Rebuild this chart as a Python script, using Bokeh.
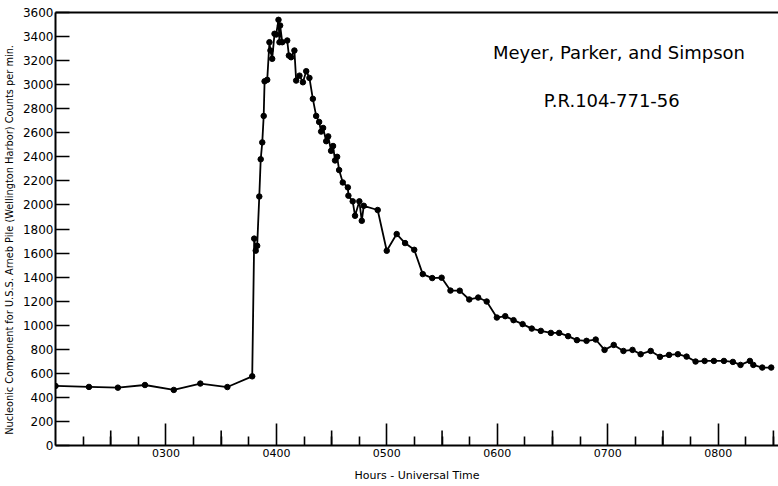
from bokeh.plotting import figure
from bokeh.models import Range1d, FixedTicker, LinearAxis, Label, ColumnDataSource
from bokeh.embed import file_html
from bokeh.resources import INLINE

# Time in hours UT (decimal), counts per minute
hours = [
    2.000, 2.303, 2.565, 2.810, 3.071, 3.311, 3.556, 3.781,
    3.799, 3.813, 3.826, 3.845, 3.858, 3.872, 3.885, 3.893, 3.917,
    3.937, 3.946, 3.962, 3.983, 3.998, 4.019, 4.028, 4.034, 4.053,
    4.098, 4.113, 4.133, 4.163, 4.179, 4.209, 4.240, 4.270, 4.299, 4.330,
    4.360, 4.387, 4.405, 4.423, 4.451, 4.469, 4.495, 4.513, 4.531, 4.550,
    4.568, 4.601, 4.647, 4.652, 4.691, 4.712, 4.751, 4.773, 4.791, 4.917,
    4.999, 5.089, 5.165, 5.248, 5.325, 5.411, 5.496, 5.576, 5.660, 5.746,
    5.827, 5.904, 5.996, 6.072, 6.147, 6.229, 6.312, 6.394, 6.485, 6.560,
    6.641, 6.721, 6.808, 6.891, 6.971, 7.054, 7.142, 7.224, 7.298, 7.389,
    7.473, 7.555, 7.635, 7.714, 7.795, 7.877, 7.961, 8.052, 8.133, 8.202,
    8.287, 8.318, 8.399, 8.480,
]
counts = [
    495, 487, 481, 503, 462, 515, 486, 575,
    1720, 1620, 1660, 2070, 2380, 2520, 2740, 3028, 3040,
    3353, 3284, 3215, 3423, 3417, 3539, 3353, 3492, 3353,
    3367, 3242, 3228, 3284, 3034, 3075, 3020, 3112, 3056, 2882,
    2740, 2690, 2610, 2640, 2530, 2570, 2450, 2490, 2370, 2400,
    2290, 2187, 2146, 2077, 2030, 1910, 2030, 1868, 1993, 1958,
    1619, 1758, 1683, 1627, 1425, 1392, 1395, 1288, 1287, 1214,
    1230, 1197, 1064, 1075, 1042, 1009, 972, 953, 936, 936,
    909, 876, 870, 881, 795, 836, 786, 795, 759, 786,
    737, 753, 759, 739, 698, 703, 703, 703, 695, 670,
    703, 670, 648, 648,
]

hour_ticks = [3, 4, 5, 6, 7, 8]
hour_labels = ["0300", "0400", "0500", "0600", "0700", "0800"]
half_hour_ticks = [2.5, 3.5, 4.5, 5.5, 6.5, 7.5, 8.5]
quarter_ticks = [2.25, 2.75, 3.25, 3.75, 4.25, 4.75, 5.25, 5.75,
                 6.25, 6.75, 7.25, 7.75, 8.25]
y_ticks = list(range(0, 3601, 200))

FONT = "DejaVu Sans"

p = figure(width=778, height=486, output_backend="svg", toolbar_location=None,
           x_range=Range1d(2.0, 8.546), y_range=Range1d(0, 3600),
           min_border_left=54, min_border_right=0, min_border_top=12,
           min_border_bottom=41)
p.outline_line_color = None
p.xgrid.visible = False
p.ygrid.visible = False
p.background_fill_color = "white"
p.border_fill_color = "white"

# x axis
xa = p.xaxis[0]
xa.ticker = FixedTicker(ticks=hour_ticks, minor_ticks=quarter_ticks + half_hour_ticks)
xa.major_label_overrides = {t: l for t, l in zip(hour_ticks, hour_labels)}
xa.major_tick_in = 22
xa.major_tick_out = 0
xa.minor_tick_in = 9
xa.minor_tick_out = 0
xa.major_tick_line_width = 1.6
xa.minor_tick_line_width = 1.6
xa.axis_line_width = 2
xa.major_label_standoff = 3
xa.major_label_text_font = FONT
xa.major_label_text_font_size = "11px"
xa.major_label_text_color = "black"
xa.axis_label = "Hours - Universal Time"
xa.axis_label_text_font = FONT
xa.axis_label_text_font_size = "11px"
xa.axis_label_text_font_style = "normal"
xa.axis_label_text_color = "black"
xa.axis_label_standoff = 9

# y axis
ya = p.yaxis[0]
ya.ticker = FixedTicker(ticks=y_ticks, minor_ticks=[])
ya.major_tick_in = 14
ya.major_tick_out = 0
ya.major_tick_line_width = 1.6
ya.axis_line_width = 2
ya.major_label_standoff = 2
ya.major_label_text_font = FONT
ya.major_label_text_font_size = "12px"
ya.major_label_text_color = "black"
ya.axis_label = "Nucleonic  Component  for  U.S.S. Arneb Pile (Wellington  Harbor)  Counts  per  min."
ya.axis_label_text_font = FONT
ya.axis_label_text_font_size = "9.8px"
ya.axis_label_text_font_style = "normal"
ya.axis_label_text_color = "black"
ya.axis_label_standoff = 5

# top frame line
top = LinearAxis(ticker=FixedTicker(ticks=[]), major_tick_line_color=None,
                 minor_tick_line_color=None, major_label_text_font_size="0px",
                 axis_line_width=2)
p.add_layout(top, "above")

# half-hour ticks (medium length)
p.ray(x=half_hour_ticks, y=[0] * len(half_hour_ticks), length=15,
      length_units="screen", angle=90, angle_units="deg",
      line_color="black", line_width=1.6)

src = ColumnDataSource(dict(h=hours, c=counts))
p.line("h", "c", source=src, line_color="black", line_width=1.8)
p.scatter("h", "c", source=src, size=5.5, fill_color="black", line_color="black")

p.add_layout(Label(x=5.96, y=3267, text="Meyer,  Parker,  and  Simpson",
                   text_font=FONT, text_font_size="18px", text_baseline="middle",
                   text_color="black"))
p.add_layout(Label(x=6.421, y=2868, text="P.R.104-771-56",
                   text_font=FONT, text_font_size="18px", text_baseline="middle",
                   text_color="black"))

open("out.html", "w").write(file_html(p, INLINE))
